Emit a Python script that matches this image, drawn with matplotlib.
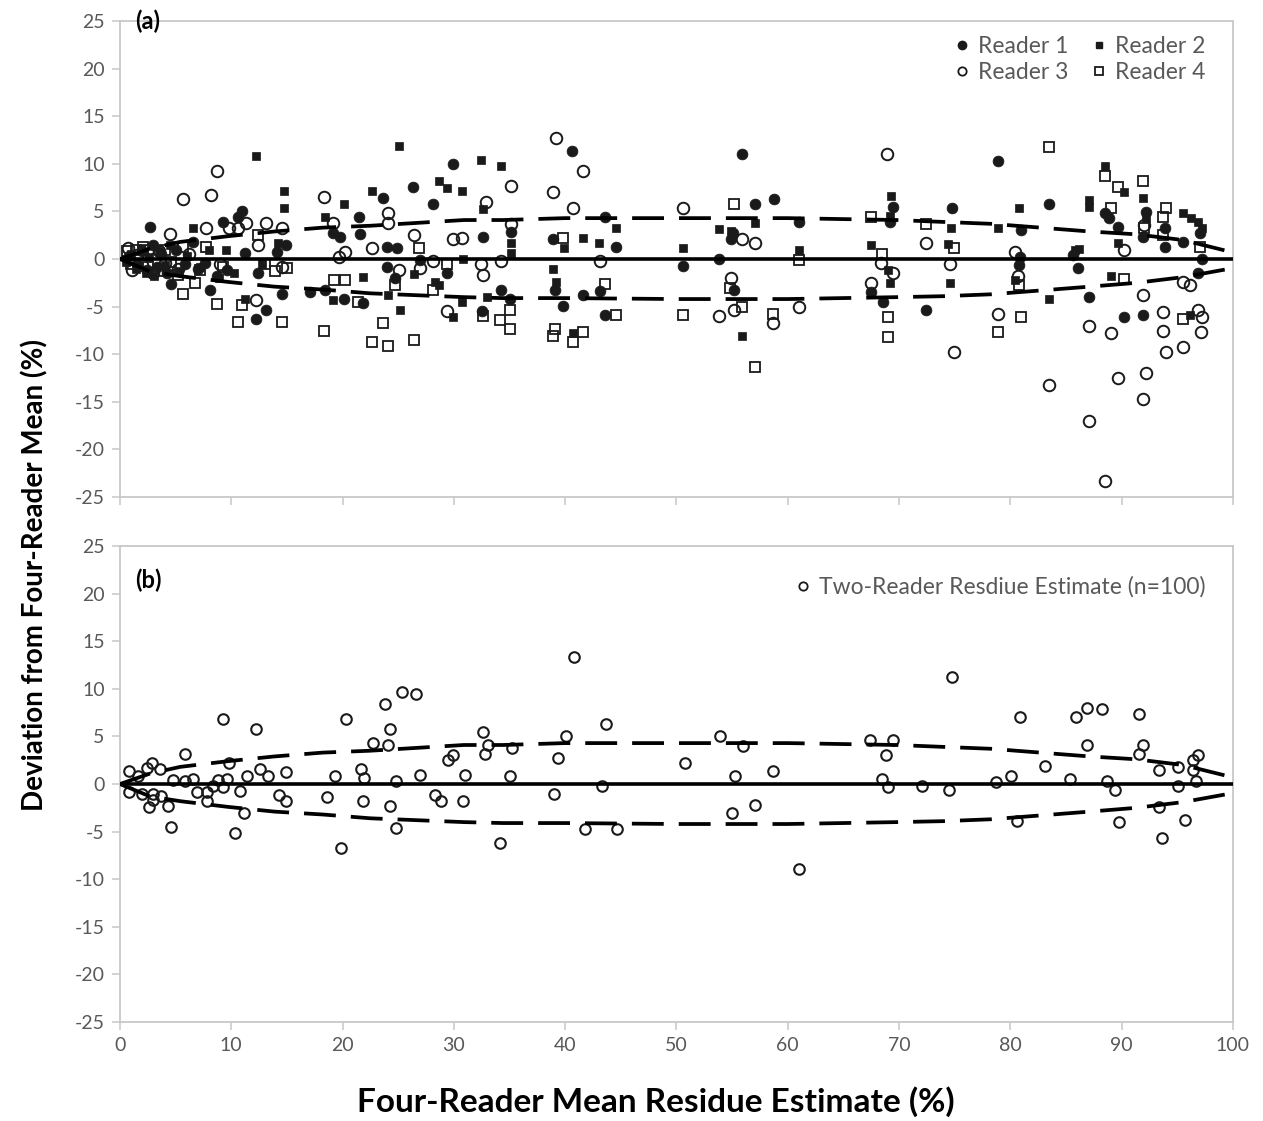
import numpy as np
import matplotlib
matplotlib.use("Agg")
import matplotlib.pyplot as plt
from matplotlib.lines import Line2D

plt.rcParams["font.family"] = ["Lato", "DejaVu Sans"]
plt.rcParams["axes.unicode_minus"] = False

# ==================================================
# Data (x = four-reader mean, y = deviation, %)
# ==================================================
reader1 = [
    (0.8, 0.3), (1.5, -0.5), (2.0, 0.8), (2.4, -1.2), (2.7, 3.4), (3.0, 1.5),
    (3.3, -0.8), (3.7, 0.5), (4.2, -1.5), (4.6, -2.6), (5.0, 1.0), (5.8, -0.5),
    (6.6, 1.8), (7.0, -1.0), (7.6, -0.4), (8.1, -3.3), (8.7, -1.8), (9.3, 3.9),
    (9.6, -1.2), (10.6, 4.4), (11.0, 5.0), (11.2, 0.6), (12.2, -6.3), (12.4, -1.5),
    (13.1, -5.3), (14.1, 0.7), (14.6, -3.7), (14.9, 1.5), (17.1, -3.5), (18.4, -3.2),
    (19.1, 2.7), (19.8, 2.3), (20.1, -4.2), (21.5, 4.4), (21.6, 2.6), (21.8, -4.6),
    (23.6, 6.4), (24.0, 1.3), (24.0, -0.8), (24.7, -2.0), (24.9, 1.2), (26.3, 7.6),
    (27.0, -0.1), (28.1, 5.8), (29.4, -1.5), (29.9, 10.0), (32.5, -5.5), (32.6, 2.3),
    (34.2, -3.3), (35.0, -4.2), (35.1, 2.8), (38.9, 2.1), (39.1, -3.3), (39.8, -4.9),
    (40.6, 11.3), (41.6, -3.8), (43.1, -3.4), (43.6, 4.4), (43.6, -5.9), (44.6, 1.3),
    (50.6, -0.7), (53.8, 0.0), (54.9, 2.1), (55.1, 2.7), (55.2, -3.3), (55.9, 11.0),
    (57.1, 5.8), (58.8, 6.3), (61.0, 3.9), (67.5, -3.5), (68.6, -4.5), (69.2, 3.9),
    (69.5, 5.5), (72.4, -5.3), (74.8, 5.4), (78.9, 10.3), (80.8, -0.6), (80.9, 0.2),
    (81.0, 3.1), (83.5, 5.8), (85.6, 0.4), (86.1, -0.9), (87.1, -4.0), (88.5, 4.8),
    (88.9, 4.3), (89.7, 3.4), (90.2, -6.1), (91.9, 2.3), (91.9, -5.9), (92.2, 4.9),
    (93.9, 3.3), (93.9, 1.3), (95.5, 1.8), (96.9, -1.5), (97.0, 2.7), (97.2, 0.0),
]

reader2 = [
    (0.5, -0.3), (1.0, 0.5), (1.4, -1.0), (1.9, 1.2), (2.3, -1.5), (2.6, 0.2),
    (3.1, -1.8), (3.5, 0.8), (4.0, -0.6), (4.5, 1.5), (5.2, -1.3), (6.0, 0.3),
    (6.6, 3.3), (7.2, -0.8), (8.0, 1.0), (8.9, -2.0), (9.5, 0.9), (10.2, -1.5),
    (11.2, -4.2), (12.2, 10.8), (12.8, -0.5), (14.2, 1.7), (14.7, 7.1), (14.7, 5.4),
    (18.4, 4.4), (19.1, -4.3), (20.1, 5.8), (21.8, -1.9), (22.6, 7.1), (24.1, -3.8),
    (25.1, 11.9), (25.2, -5.3), (26.4, -1.6), (28.3, -2.4), (28.7, 8.2), (28.7, -2.7),
    (29.4, 7.5), (29.9, -6.1), (30.7, 7.1), (30.7, -4.5), (30.8, 0.0), (32.4, 10.4),
    (32.6, 5.3), (33.0, -4.0), (34.2, 9.8), (35.1, 1.7), (35.1, 0.6), (38.9, -1.0),
    (39.2, -2.4), (39.9, 1.2), (40.7, -7.8), (41.6, 2.2), (43.0, 1.7), (44.6, 3.3),
    (50.6, 1.2), (53.8, 3.2), (54.9, 2.9), (55.9, -8.1), (57.1, 3.8), (61.0, 0.9),
    (67.5, 1.5), (69.0, -1.1), (69.2, -2.5), (69.2, 4.5), (69.3, 6.6), (74.4, 1.6),
    (74.6, -2.5), (74.7, 3.3), (78.9, 3.3), (80.4, -2.2), (80.8, 5.4), (83.5, -4.2),
    (85.8, 0.9), (86.2, 1.1), (87.1, 5.5), (87.1, 6.2), (88.5, 9.8), (89.0, -1.8),
    (89.7, 1.7), (90.2, 7.0), (91.9, 6.4), (92.2, 4.3), (95.5, 4.8), (96.1, -5.9),
    (96.2, 4.3), (96.9, 3.9), (97.2, 3.3),
]

reader3 = [
    (0.7, 1.2), (1.1, -1.1), (1.5, 0.4), (2.0, -0.6), (2.5, 1.0), (3.0, -1.5),
    (3.5, 0.8), (4.0, -0.4), (4.5, 2.6), (5.2, -1.0), (5.7, 6.3), (6.2, 0.5),
    (7.7, 3.3), (8.2, 6.7), (8.7, 9.2), (9.0, -0.5), (9.8, 3.3), (10.6, 3.3),
    (11.3, 3.8), (12.2, -4.3), (12.4, 1.5), (13.1, 3.8), (14.6, 3.3), (14.6, -0.8),
    (18.3, 6.5), (19.1, 3.8), (19.7, 0.2), (20.2, 0.7), (22.6, 1.2), (24.1, 4.8),
    (24.1, 3.8), (25.1, -1.2), (26.4, 2.5), (27.0, -0.9), (28.1, -0.2), (29.4, -5.5),
    (29.9, 2.1), (30.7, 2.2), (32.4, -0.5), (32.6, -1.7), (32.9, 6.0), (34.2, -0.2),
    (35.1, 7.7), (35.1, 3.7), (38.9, 7.0), (39.2, 12.7), (40.7, 5.4), (41.6, 9.2),
    (43.1, -0.2), (50.6, 5.4), (53.8, -6.0), (54.9, -2.0), (55.2, -5.4), (55.9, 2.1),
    (57.1, 1.7), (58.7, -6.7), (61.0, -5.0), (67.5, -2.5), (68.4, -0.4), (68.9, 11.0),
    (69.5, -1.5), (72.4, 1.7), (74.6, -0.5), (74.9, -9.8), (78.9, -5.8), (80.4, 0.7),
    (80.7, -1.8), (83.5, -13.2), (87.1, -7.0), (87.1, -17.0), (88.5, -23.3), (89.0, -7.8),
    (89.7, -12.5), (90.2, 0.9), (91.9, -3.8), (91.9, -14.7), (92.2, -12.0), (92.0, 3.6),
    (93.7, -5.6), (93.7, -7.6), (94.0, -9.8), (95.5, -9.2), (95.5, -2.4), (96.1, -2.7),
    (96.9, -5.4), (97.2, -6.1), (97.1, -7.7),
]

reader4 = [
    (0.6, 0.8), (1.0, -0.5), (1.4, 1.0), (2.1, 1.3), (2.5, -0.8), (3.0, 0.5),
    (3.4, -1.3), (4.0, 1.0), (4.6, -0.3), (5.2, -1.7), (5.7, 1.3), (5.7, -3.7),
    (6.7, -2.5), (7.2, -1.1), (7.7, 1.3), (8.7, -4.7), (9.3, -0.8), (10.6, -6.6),
    (11.0, -4.8), (12.4, 2.5), (13.0, -0.5), (13.9, -1.3), (14.6, -6.6), (15.0, -0.9),
    (18.3, -7.6), (19.2, -2.2), (20.2, -2.2), (21.4, -4.5), (22.6, -8.7), (23.6, -6.7),
    (24.1, -9.1), (24.7, -2.7), (26.4, -8.5), (26.9, 1.2), (28.1, -3.3), (29.4, -0.5),
    (32.6, -6.0), (34.1, -6.4), (35.0, -5.3), (35.0, -7.3), (38.9, -8.1), (39.1, -7.3),
    (39.8, 2.2), (40.7, -8.7), (41.6, -7.7), (43.6, -2.6), (44.6, -5.9), (50.6, -5.9),
    (54.8, -3.0), (55.2, 5.8), (55.9, -5.0), (57.1, -11.3), (58.7, -5.8), (61.0, -0.1),
    (67.5, 4.4), (68.5, 0.5), (69.0, -6.1), (69.0, -8.2), (72.4, 3.7), (74.9, 1.2),
    (78.9, -7.7), (80.8, -2.7), (81.0, -6.1), (83.5, 11.8), (88.5, 8.7), (89.0, 5.4),
    (89.7, 7.6), (90.2, -2.1), (91.9, 8.2), (92.0, 3.3), (93.7, 4.4), (93.7, 2.5),
    (94.0, 5.4), (95.5, -6.3), (97.0, 1.3),
]

two_reader = [
    (0.8, 1.4), (0.8, -0.8), (1.6, 0.8), (2.0, -1.0), (2.4, 1.7), (2.9, 2.2),
    (2.6, -2.4), (3.0, -1.0), (3.0, -1.7), (3.6, 1.6), (3.7, -1.3), (4.3, -2.3),
    (4.6, -4.5), (4.8, 0.4), (5.8, 3.2), (5.8, 0.3), (6.6, 0.5), (6.9, -0.8),
    (7.8, -0.8), (7.8, -1.8), (8.4, -0.2), (8.8, 0.4), (9.3, 6.8), (9.3, -0.3),
    (9.6, 0.5), (9.8, 2.2), (10.3, -5.1), (10.8, -0.7), (11.1, -3.0), (11.4, 0.8),
    (12.2, 5.8), (12.6, 1.6), (13.3, 0.8), (14.3, -1.2), (14.9, 1.3), (14.9, -1.8),
    (18.6, -1.4), (19.3, 0.8), (19.9, -6.7), (20.3, 6.8), (21.7, 1.6), (21.8, -1.8),
    (21.9, 0.6), (22.7, 4.3), (23.8, 8.4), (24.1, 4.1), (24.3, 5.8), (24.3, -2.3),
    (24.8, 0.3), (24.8, -4.6), (25.3, 9.7), (26.6, 9.5), (27.0, 0.9), (28.3, -1.2),
    (28.8, -1.8), (29.5, 2.5), (29.9, 3.0), (30.8, -1.8), (31.0, 0.9), (32.6, 5.5),
    (32.8, 3.2), (33.1, 4.1), (34.1, -6.2), (35.0, 0.8), (35.2, 3.8), (39.0, -1.1),
    (39.4, 2.7), (40.1, 5.0), (40.8, 13.3), (41.8, -4.7), (43.3, -0.2), (43.7, 6.3),
    (44.7, -4.7), (50.8, 2.2), (53.9, 5.0), (55.0, -3.0), (55.3, 0.8), (56.0, 4.0),
    (57.1, -2.2), (58.7, 1.4), (61.0, -8.9), (67.4, 4.6), (68.5, 0.5), (68.8, 3.0),
    (69.0, -0.3), (69.5, 4.6), (72.1, -0.2), (74.5, -0.6), (74.8, 11.2), (78.7, 0.2),
    (80.1, 0.8), (80.6, -3.9), (80.9, 7.0), (83.1, 1.9), (85.4, 0.5), (85.9, 7.0),
    (86.9, 8.0), (86.9, 4.1), (88.2, 7.9), (88.7, 0.3), (89.4, -0.6), (89.8, -4.0),
    (91.6, 7.4), (91.9, 4.1), (91.6, 3.2), (93.4, 1.5), (93.4, -2.4), (93.6, -5.7),
    (95.1, 1.8), (95.1, -0.2), (95.7, -3.8), (96.4, 2.5), (96.9, 3.0), (96.4, 1.5),
    (96.7, 0.3),
]

# dashed envelope
bound_x = [0, 2.7, 5.4, 9.7, 13.9, 18.2, 22.5, 26.7, 30.9, 34.4, 40, 50, 60,
           69.8, 74, 78.3, 82.7, 87.1, 91.3, 95.5, 99.3, 100]
bound_hi = [0, 1.1, 1.8, 2.4, 2.9, 3.3, 3.5, 3.8, 4.1, 4.1, 4.3, 4.3, 4.3,
            4.1, 3.9, 3.7, 3.3, 2.9, 2.6, 2.0, 0.9, 0.6]
bound_lo = [0, -1.3, -1.8, -2.4, -2.9, -3.2, -3.6, -3.8, -4.0, -4.1, -4.1, -4.2, -4.2,
            -4.0, -3.9, -3.7, -3.3, -2.9, -2.5, -1.9, -1.1, -0.8]

y_ticks = [-25, -20, -15, -10, -5, 0, 5, 10, 15, 20, 25]
x_ticks = [0, 10, 20, 30, 40, 50, 60, 70, 80, 90, 100]

GRAY_TXT = "#595959"
GRAY_AX = "#c8c8c8"
INK = "#1a1a1a"


def xy(pairs):
    arr = np.array(pairs, dtype=float)
    return arr[:, 0], arr[:, 1]


def style_axes(ax, show_xlabels):
    ax.set_xlim(0, 100)
    ax.set_ylim(-25, 25)
    ax.set_xticks(x_ticks)
    ax.set_yticks(y_ticks)
    for sp in ax.spines.values():
        sp.set_color(GRAY_AX)
        sp.set_linewidth(1.3)
    ax.tick_params(direction="out", length=6, width=1.1, color=GRAY_AX,
                   labelcolor=GRAY_TXT, labelsize=14, pad=5)
    if not show_xlabels:
        ax.tick_params(axis="x", labelbottom=False)


def draw_envelope(ax):
    ax.axhline(0, color="black", lw=2.6, zorder=4)
    for b in (bound_hi, bound_lo):
        ax.plot(bound_x, b, color="black", lw=2.7, dashes=(8.5, 4),
                dash_capstyle="butt", zorder=4)


fig = plt.figure(figsize=(12.63, 11.21), dpi=100)
ax_a = fig.add_axes([0.095, 0.5566, 0.8812, 0.4246])
ax_b = fig.add_axes([0.095, 0.0883, 0.8812, 0.4246])

# ==================================================
# Panel (a)
# ==================================================
x1, y1 = xy(reader1)
x2, y2 = xy(reader2)
x3, y3 = xy(reader3)
x4, y4 = xy(reader4)

ax_a.plot(x1, y1, "o", ms=7.8, mfc=INK, mec=INK, mew=0.5, ls="none", zorder=3)
ax_a.plot(x2, y2, "s", ms=5.6, mfc=INK, mec=INK, mew=0.5, ls="none", zorder=3)
ax_a.plot(x3, y3, "o", ms=8.3, mfc="none", mec=INK, mew=1.4, ls="none", zorder=3)
ax_a.plot(x4, y4, "s", ms=7.6, mfc="none", mec=INK, mew=1.3, ls="none", zorder=3)
draw_envelope(ax_a)
style_axes(ax_a, show_xlabels=False)

handles_a = [
    Line2D([], [], marker="o", ls="none", ms=6, mfc=INK, mec=INK),
    Line2D([], [], marker="o", ls="none", ms=6, mfc="none", mec=INK, mew=1.3),
    Line2D([], [], marker="s", ls="none", ms=4.6, mfc=INK, mec=INK),
    Line2D([], [], marker="s", ls="none", ms=6, mfc="none", mec=INK, mew=1.3),
]
ax_a.legend(handles_a, ["Reader 1", "Reader 3", "Reader 2", "Reader 4"],
            ncol=2, loc="upper right", bbox_to_anchor=(0.99, 1.003),
            frameon=False, fontsize=16.5, handlelength=0.7, handletextpad=0.35,
            columnspacing=1.0, labelspacing=0.25, borderaxespad=0.3,
            labelcolor=GRAY_TXT)
ax_a.text(0.0135, 1.0, "(a)", transform=ax_a.transAxes, ha="left", va="center",
          fontsize=17, fontweight="bold")

# ==================================================
# Panel (b)
# ==================================================
xb, yb = xy(two_reader)
ax_b.plot(xb, yb, "o", ms=7.6, mfc="none", mec=INK, mew=1.5, ls="none", zorder=3)
draw_envelope(ax_b)
style_axes(ax_b, show_xlabels=True)

handle_b = [Line2D([], [], marker="o", ls="none", ms=6, mfc="none", mec=INK, mew=1.3)]
ax_b.legend(handle_b, ["Two-Reader Resdiue Estimate (n=100)"], loc="upper right",
            bbox_to_anchor=(0.99, 0.97), frameon=False, fontsize=16.5,
            handlelength=0.7, handletextpad=0.35, borderaxespad=0.3,
            labelcolor=GRAY_TXT)
ax_b.text(0.0135, 0.929, "(b)", transform=ax_b.transAxes, ha="left", va="center",
          fontsize=17, fontweight="bold")

fig.text(0.519, 0.017, "Four-Reader Mean Residue Estimate (%)", ha="center",
         va="center", fontsize=24, fontweight="bold")
fig.text(0.028, 0.487, "Deviation from Four-Reader Mean (%)", rotation=90,
         ha="center", va="center", fontsize=20, fontweight="bold")

fig.savefig("out.png", dpi=100)
plt.close(fig)
